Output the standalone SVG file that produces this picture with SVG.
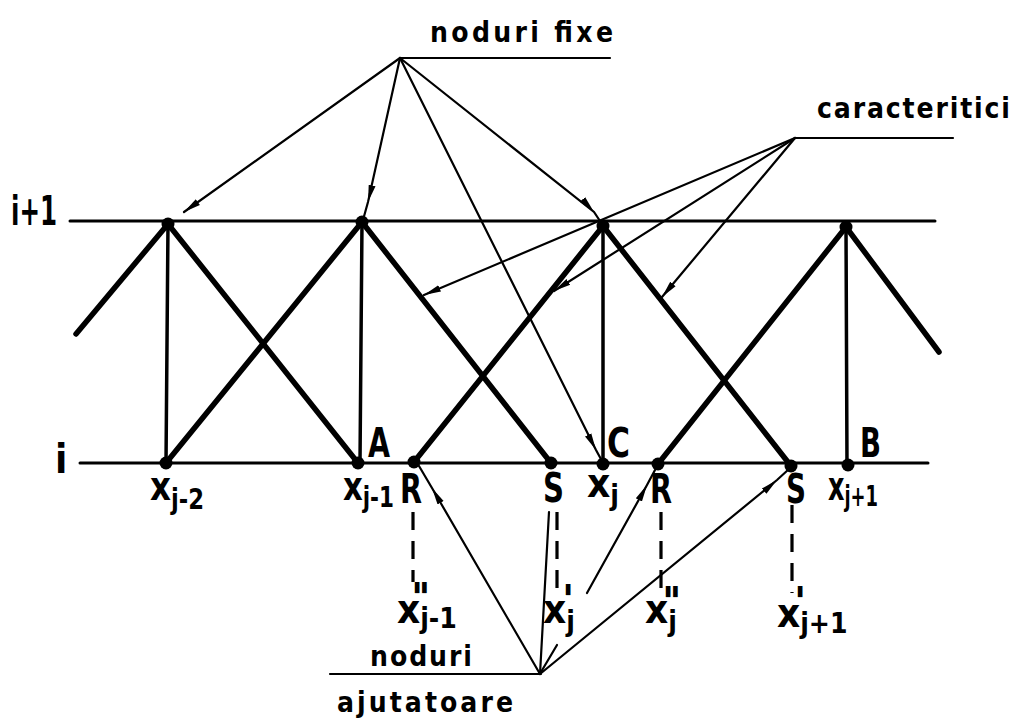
<svg xmlns="http://www.w3.org/2000/svg" width="1016" height="726" viewBox="0 0 1016 726">
<style>
.ax{stroke:#000;stroke-width:3;fill:none;stroke-linecap:round}
.ch{stroke:#000;stroke-width:5.5;fill:none;stroke-linecap:round}
.vt{stroke:#000;stroke-width:3.5;fill:none;stroke-linecap:round}
.ld{stroke:#000;stroke-width:2.2;fill:none;stroke-linecap:round}
.ds{stroke:#000;stroke-width:3.2;fill:none;stroke-dasharray:18 11}
.nd{fill:#000}
.lab{font-family:"DejaVu Sans Condensed","DejaVu Sans",sans-serif;font-weight:bold;font-size:40px;fill:#000}
.sub{font-size:28px}
.pr{font-family:"DejaVu Sans",sans-serif;font-weight:bold;font-style:italic;font-size:40px;letter-spacing:-5px}
.ann{font-family:"DejaVu Sans Condensed","DejaVu Sans",sans-serif;font-weight:bold;font-size:28px;fill:#000}
</style>
<defs>
<marker id="ah" markerUnits="userSpaceOnUse" markerWidth="18" markerHeight="9" refX="17" refY="4.5" orient="auto">
<path d="M0,1 L17,4.5 L0,8 z" fill="#000"/>
</marker>
</defs>
<g id="grid">
<line class="ax" x1="70" y1="221" x2="935" y2="221"/>
<line class="ax" x1="80" y1="463" x2="928" y2="463"/>
</g>
<g id="verticals">
<line class="vt" x1="168" y1="224" x2="166" y2="463"/>
<line class="vt" x1="362" y1="222" x2="360" y2="463"/>
<line class="vt" x1="603" y1="226" x2="603" y2="464"/>
<line class="vt" x1="846" y1="227" x2="847" y2="465"/>
</g>
<g id="characteristics">
<line class="ch" x1="76" y1="334" x2="168" y2="224"/>
<line class="ch" x1="168" y1="224" x2="358" y2="463"/>
<line class="ch" x1="166" y1="463" x2="362" y2="222"/>
<line class="ch" x1="362" y1="222" x2="551" y2="463"/>
<line class="ch" x1="414" y1="462" x2="603" y2="226"/>
<line class="ch" x1="603" y1="226" x2="791" y2="466"/>
<line class="ch" x1="658" y1="464" x2="846" y2="227"/>
<line class="ch" x1="846" y1="227" x2="939" y2="352"/>
</g>
<g id="nodes">
<circle class="nd" cx="168" cy="224" r="6.5"/>
<circle class="nd" cx="362" cy="222" r="6.5"/>
<circle class="nd" cx="603" cy="226" r="6.5"/>
<circle class="nd" cx="846" cy="227" r="6.5"/>
<circle class="nd" cx="166" cy="463" r="6.5"/>
<circle class="nd" cx="358" cy="463" r="6.5"/>
<circle class="nd" cx="414" cy="462" r="6.5"/>
<circle class="nd" cx="551" cy="463" r="6.5"/>
<circle class="nd" cx="603" cy="464" r="6.5"/>
<circle class="nd" cx="658" cy="464" r="6.5"/>
<circle class="nd" cx="791" cy="466" r="6.5"/>
<circle class="nd" cx="848" cy="465" r="6.5"/>
</g>
<g id="connectors">
<line class="ld" x1="400" y1="58" x2="610" y2="58"/>
<path class="ld" d="M400,58 L184,212" marker-end="url(#ah)"/>
<path class="ld" d="M400,58 L368,202 L363,220" marker-mid="url(#ah)"/>
<path class="ld" d="M400,58 L594,212 L602,224" marker-mid="url(#ah)"/>
<path class="ld" d="M400,58 L596,450 L602,461" marker-mid="url(#ah)"/>
<line class="ld" x1="795" y1="138" x2="953" y2="138"/>
<path class="ld" d="M795,138 L424,295" marker-end="url(#ah)"/>
<path class="ld" d="M795,138 L554,291" marker-end="url(#ah)"/>
<path class="ld" d="M795,138 L662,297" marker-end="url(#ah)"/>
<line class="ld" x1="330" y1="674" x2="541" y2="674"/>
<path class="ld" d="M540,674 L432,488 L419,466" marker-mid="url(#ah)"/>
<line class="ld" x1="540" y1="674" x2="549" y2="512"/>
<line class="ld" x1="541" y1="672" x2="557" y2="645"/>
<path class="ld" d="M587,593 L647,485 L655,470" marker-mid="url(#ah)"/>
<path class="ld" d="M540,674 L777,480 L789,469" marker-mid="url(#ah)"/>
<line class="ds" x1="413" y1="512" x2="413" y2="582"/>
<line class="ds" x1="557" y1="512" x2="557" y2="592"/>
<line class="ds" x1="661" y1="512" x2="661" y2="590"/>
<line class="ds" x1="792" y1="505" x2="792" y2="593"/>
</g>
<g id="labels">
<text class="lab" x="11" y="225" textLength="46" lengthAdjust="spacingAndGlyphs">i+1</text>
<text class="lab" x="55" y="473">i</text>
<text class="lab" x="150" y="500" textLength="54" lengthAdjust="spacingAndGlyphs">x<tspan class="sub" dy="9">j-2</tspan></text>
<text class="lab" x="343" y="500" textLength="51" lengthAdjust="spacingAndGlyphs">x<tspan class="sub" dy="7">j-1</tspan></text>
<text class="lab" x="368" y="457" textLength="22" lengthAdjust="spacingAndGlyphs">A</text>
<text class="lab" x="400" y="503" textLength="22" lengthAdjust="spacingAndGlyphs">R</text>
<text class="lab" x="543" y="502" textLength="21" lengthAdjust="spacingAndGlyphs">S</text>
<text class="lab" x="587" y="497" textLength="32" lengthAdjust="spacingAndGlyphs">x<tspan class="sub" dy="8">j</tspan></text>
<text class="lab" x="607" y="457" textLength="23" lengthAdjust="spacingAndGlyphs">C</text>
<text class="lab" x="650" y="503" textLength="22" lengthAdjust="spacingAndGlyphs">R</text>
<text class="lab" x="786" y="503" textLength="20" lengthAdjust="spacingAndGlyphs">S</text>
<text class="lab" x="828" y="500" textLength="50" lengthAdjust="spacingAndGlyphs">x<tspan class="sub" dy="6">j+1</tspan></text>
<text class="lab" x="860" y="457" textLength="21" lengthAdjust="spacingAndGlyphs">B</text>
<text class="lab" x="397" y="623">x<tspan class="sub" dy="5">j-1</tspan><tspan class="pr" x="411" y="612">''</tspan></text>
<text class="lab" x="543" y="623">x<tspan class="sub" dy="8">j</tspan><tspan class="pr" x="562" y="614">'</tspan></text>
<text class="lab" x="645" y="623">x<tspan class="sub" dy="8">j</tspan><tspan class="pr" x="662" y="616">''</tspan></text>
<text class="lab" x="777" y="627">x<tspan class="sub" dy="6">j+1</tspan><tspan class="pr" x="794" y="616">'</tspan></text>
<text class="ann" x="430" y="42" textLength="183">noduri fixe</text>
<text class="ann" x="817" y="118" textLength="193">caracteritici</text>
<text class="ann" x="370" y="666" textLength="102">noduri</text>
<text class="ann" x="337" y="712" textLength="176">ajutatoare</text>
</g>
</svg>
